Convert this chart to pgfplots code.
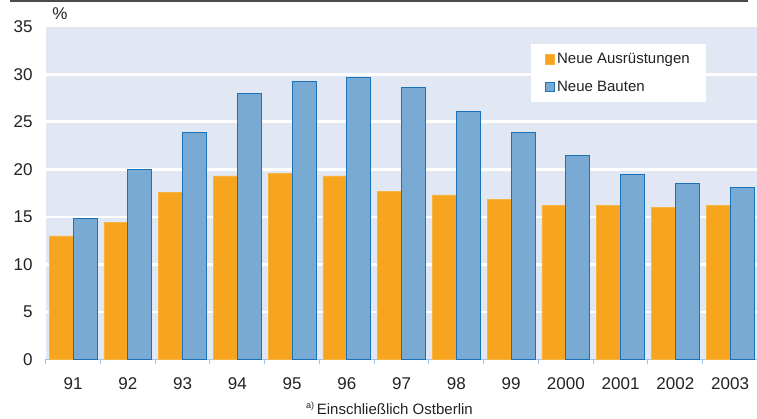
\documentclass[border=0pt]{standalone}
\usepackage{pgfplots}
\pgfplotsset{compat=1.18}
\usepackage{fontspec}
\setmainfont{Liberation Sans}
\definecolor{cOrange}{HTML}{F7A51E}
\definecolor{cBlue}{HTML}{79AAD4}
\definecolor{cBlueEdge}{HTML}{1A73BA}
\definecolor{cBg}{HTML}{E1E8F4}
\definecolor{cAxis}{HTML}{A8C4E4}
\definecolor{cText}{HTML}{222222}
\pgfplotstableread{
x ausr bauten
0 13.0 14.8
1 14.4 20.0
2 17.6 23.9
3 19.3 28.0
4 19.6 29.2
5 19.3 29.7
6 17.7 28.6
7 17.3 26.1
8 16.85 23.9
9 16.2 21.5
10 16.2 19.5
11 16.0 18.5
12 16.2 18.1
}\datatable
\begin{document}
\begin{tikzpicture}
\useasboundingbox (-45.7pt,-59.5pt) rectangle (711.3pt,359.5pt);
\begin{axis}[
  at={(0pt,0pt)}, anchor=south west,
  scale only axis,
  width=711.8pt, height=332.8pt,
  xmin=-0.5, xmax=12.5, ymin=0, ymax=35,
  axis background/.style={fill=cBg},
  axis x line*=bottom,
  axis y line*=left,
  y axis line style={draw=none},
  x axis line style={draw=cAxis, line width=1.2pt},
  xtick={0,...,12},
  xticklabels={91,92,93,94,95,96,97,98,99,2000,2001,2002,2003},
  minor xtick={-0.5,0.5,...,12.5},
  tick align=outside,
  major tick length=0pt,
  minor tick length=5pt,
  minor x tick style={draw=cAxis, line width=1pt},
  ytick={5,10,...,30},
  extra y ticks={0,35},
  extra y tick style={grid=none},
  ymajorgrids,
  grid style={white, line width=2.6pt},
  ytick style={draw=none},
  /pgf/number format/assume math mode=true,
  ticklabel style={font=\fontsize{17}{20}\selectfont, text=cText},
  yticklabel style={anchor=east, inner sep=0pt, xshift=-13pt},
  xticklabel style={anchor=north, inner sep=0pt, yshift=-18pt},
  legend style={at={(0.681,0.948)}, anchor=north west, fill=white, draw=none,
    font=\fontsize{15}{18}\selectfont, text=cText,
    inner xsep=14pt, inner ysep=7pt, row sep=12pt,
    nodes={inner sep=2pt}},
  legend cell align=left,
  legend image code/.code={\draw[#1] (0pt,-4.8pt) rectangle (9.6pt,4.8pt);},
]
\addplot[ybar, bar width=24pt, bar shift=-12pt, fill=cOrange, draw=cOrange!85!white, line width=0.6pt]
  table[x=x, y=ausr] {\datatable};
\addlegendentry{Neue Ausrüstungen}
\addplot[ybar, bar width=24pt, bar shift=12pt, fill=cBlue, draw=cBlueEdge, line width=0.9pt]
  table[x=x, y=bauten] {\datatable};
\addlegendentry{Neue Bauten}
\end{axis}
\draw[color=black!70, line width=1.6pt] (-35.7pt,358.7pt) -- (702.3pt,358.7pt);
\node[font=\fontsize{17}{20}\selectfont, text=cText] at (14.3pt,345.8pt) {\%};
\node[font=\fontsize{15}{18}\selectfont, text=cText, anchor=base west, inner sep=0pt] at (271pt,-55.5pt) {Einschließlich Ostberlin};
\node[font=\fontsize{9}{10}\selectfont, text=cText, anchor=base east, inner sep=0pt] at (268.5pt,-49.5pt) {a)};
\end{tikzpicture}
\end{document}
